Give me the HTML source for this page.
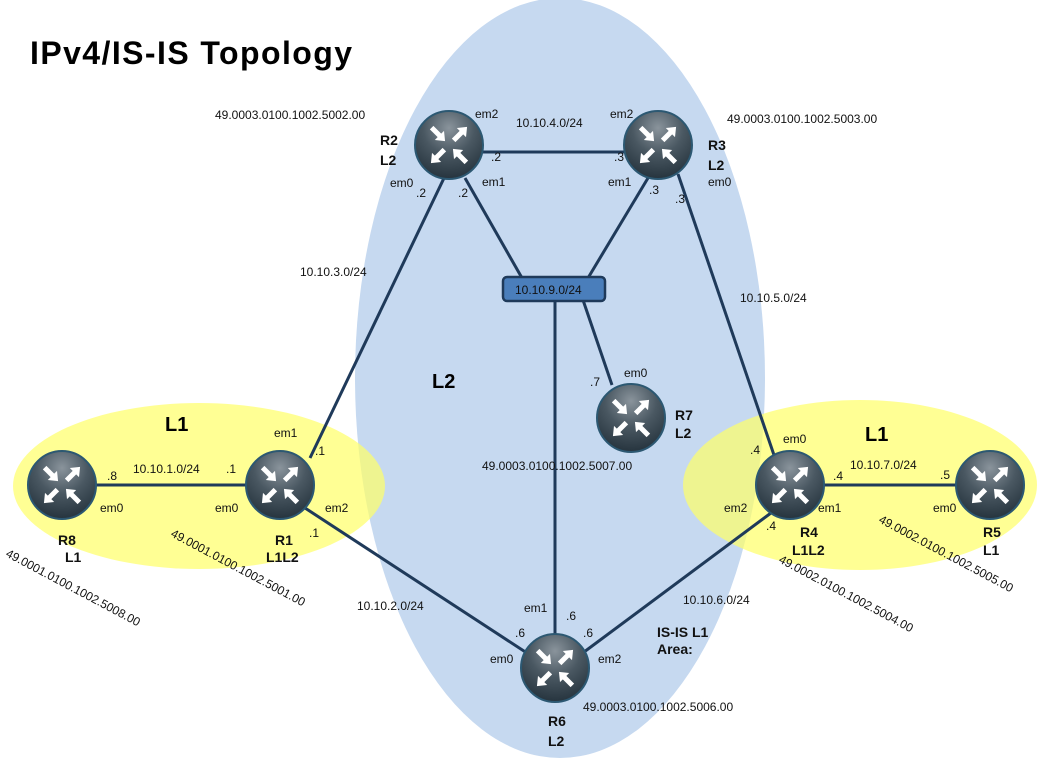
<!DOCTYPE html>
<html><head><meta charset="utf-8"><style>
html,body{margin:0;padding:0;background:#fff;}
svg{display:block;font-family:"Liberation Sans",sans-serif;}
.t{font-size:12px;fill:#111;}
.b{font-size:14px;font-weight:bold;fill:#111;}
.ln{stroke:#1f3a5a;stroke-width:3;fill:none;}
</style></head><body>
<svg width="1042" height="761" viewBox="0 0 1042 761">
<defs>
<radialGradient id="rg" cx="50%" cy="25%" r="75%">
<stop offset="0" stop-color="#8a949c"/><stop offset="0.5" stop-color="#4a5862"/><stop offset="1" stop-color="#26343e"/>
</radialGradient>
<polygon id="arr" points="-9,-2.5 2,-2.5 2,-6.5 10,0 2,6.5 2,2.5 -9,2.5" fill="#fff"/>
<g id="router">
<circle r="34" fill="url(#rg)" stroke="#2c5872" stroke-width="2"/>
<use href="#arr" transform="translate(-11,-11) rotate(45)"/>
<use href="#arr" transform="translate(11,-11) rotate(-45)"/>
<use href="#arr" transform="translate(-11,11) rotate(135)"/>
<use href="#arr" transform="translate(11,11) rotate(-135)"/>
</g>
</defs>
<ellipse cx="560" cy="378" rx="205" ry="380" fill="#c6d9f0"/>
<ellipse cx="199" cy="486" rx="186" ry="83" fill="#ffff66" opacity="0.7"/>
<ellipse cx="860" cy="485" rx="177" ry="85" fill="#ffff66" opacity="0.7"/>
<text x="30" y="64" textLength="322" style="font-size:32px;font-weight:bold;fill:#000">IPv4/IS-IS  Topology</text>

<g>
<line class="ln" x1="449" y1="152" x2="658" y2="152"/>
<line class="ln" x1="465" y1="178" x2="522" y2="278"/>
<line class="ln" x1="648" y1="178" x2="588" y2="278"/>
<line class="ln" x1="583" y1="300" x2="612" y2="385"/>
<line class="ln" x1="555" y1="300" x2="555" y2="640"/>
<line class="ln" x1="445" y1="176" x2="310" y2="458"/>
<line class="ln" x1="678" y1="174" x2="775" y2="458"/>
<line class="ln" x1="305" y1="508" x2="530" y2="655"/>
<line class="ln" x1="775" y1="510" x2="580" y2="655"/>
<line class="ln" x1="90" y1="485" x2="250" y2="485"/>
<line class="ln" x1="820" y1="485" x2="960" y2="485"/>
</g>

<g>
<rect x="503" y="277" width="102" height="24" rx="4" fill="#4a7ebb" stroke="#1f3a5a" stroke-width="2.5"/>
<text class="t" x="515" y="294">10.10.9.0/24</text>
</g>

<use href="#router" x="449" y="145"/>
<use href="#router" x="658" y="145"/>
<use href="#router" x="280" y="485"/>
<use href="#router" x="62" y="485"/>
<use href="#router" x="631" y="418"/>
<use href="#router" x="790" y="485"/>
<use href="#router" x="990" y="485"/>
<use href="#router" x="555" y="668"/>

<g>
<text class="b" x="380" y="145">R2</text><text class="b" x="380" y="165">L2</text>
<text class="b" x="708" y="150">R3</text><text class="b" x="708" y="170">L2</text>
<text class="b" x="675" y="420">R7</text><text class="b" x="675" y="438">L2</text>
<text class="b" x="58" y="545">R8</text><text class="b" x="65" y="562">L1</text>
<text class="b" x="275" y="545">R1</text><text class="b" x="266" y="562">L1L2</text>
<text class="b" x="800" y="537">R4</text><text class="b" x="792" y="555">L1L2</text>
<text class="b" x="983" y="537">R5</text><text class="b" x="983" y="555">L1</text>
<text class="b" x="548" y="726">R6</text><text class="b" x="548" y="746">L2</text>
<text class="b" x="657" y="637">IS-IS L1</text><text class="b" x="657" y="654">Area:</text>
<text x="165" y="431" style="font-size:20px;font-weight:bold">L1</text>
<text x="865" y="441" style="font-size:20px;font-weight:bold">L1</text>
<text x="432" y="388" style="font-size:20px;font-weight:bold">L2</text>

<text class="t" x="215" y="119">49.0003.0100.1002.5002.00</text>
<text class="t" x="727" y="123">49.0003.0100.1002.5003.00</text>
<text class="t" x="482" y="470">49.0003.0100.1002.5007.00</text>
<text class="t" x="583" y="711">49.0003.0100.1002.5006.00</text>
<text class="t" transform="translate(5,556) rotate(28)">49.0001.0100.1002.5008.00</text>
<text class="t" transform="translate(170,536) rotate(28)">49.0001.0100.1002.5001.00</text>
<text class="t" transform="translate(778,562) rotate(28)">49.0002.0100.1002.5004.00</text>
<text class="t" transform="translate(878,522) rotate(28)">49.0002.0100.1002.5005.00</text>

<text class="t" x="516" y="127">10.10.4.0/24</text>
<text class="t" x="300" y="276">10.10.3.0/24</text>
<text class="t" x="740" y="302">10.10.5.0/24</text>
<text class="t" x="133" y="473">10.10.1.0/24</text>
<text class="t" x="850" y="469">10.10.7.0/24</text>
<text class="t" x="357" y="610">10.10.2.0/24</text>
<text class="t" x="683" y="604">10.10.6.0/24</text>

<text class="t" x="475" y="118">em2</text><text class="t" x="610" y="118">em2</text>
<text class="t" x="390" y="187">em0</text><text class="t" x="482" y="186">em1</text>
<text class="t" x="608" y="186">em1</text><text class="t" x="708" y="186">em0</text>
<text class="t" x="416" y="197">.2</text><text class="t" x="458" y="197">.2</text><text class="t" x="491" y="161">.2</text>
<text class="t" x="614" y="161">.3</text><text class="t" x="649" y="194">.3</text><text class="t" x="675" y="203">.3</text>
<text class="t" x="624" y="377">em0</text><text class="t" x="590" y="386">.7</text>
<text class="t" x="274" y="437">em1</text><text class="t" x="315" y="455">.1</text>
<text class="t" x="107" y="480">.8</text><text class="t" x="226" y="473">.1</text>
<text class="t" x="100" y="512">em0</text><text class="t" x="215" y="512">em0</text>
<text class="t" x="325" y="512">em2</text><text class="t" x="309" y="537">.1</text>
<text class="t" x="783" y="443">em0</text><text class="t" x="750" y="454">.4</text>
<text class="t" x="833" y="480">.4</text><text class="t" x="940" y="479">.5</text>
<text class="t" x="724" y="512">em2</text><text class="t" x="818" y="512">em1</text><text class="t" x="933" y="512">em0</text>
<text class="t" x="766" y="530">.4</text>
<text class="t" x="524" y="612">em1</text><text class="t" x="566" y="620">.6</text>
<text class="t" x="515" y="637">.6</text><text class="t" x="583" y="637">.6</text>
<text class="t" x="490" y="663">em0</text><text class="t" x="598" y="663">em2</text>
</g>
</svg>
</body></html>
